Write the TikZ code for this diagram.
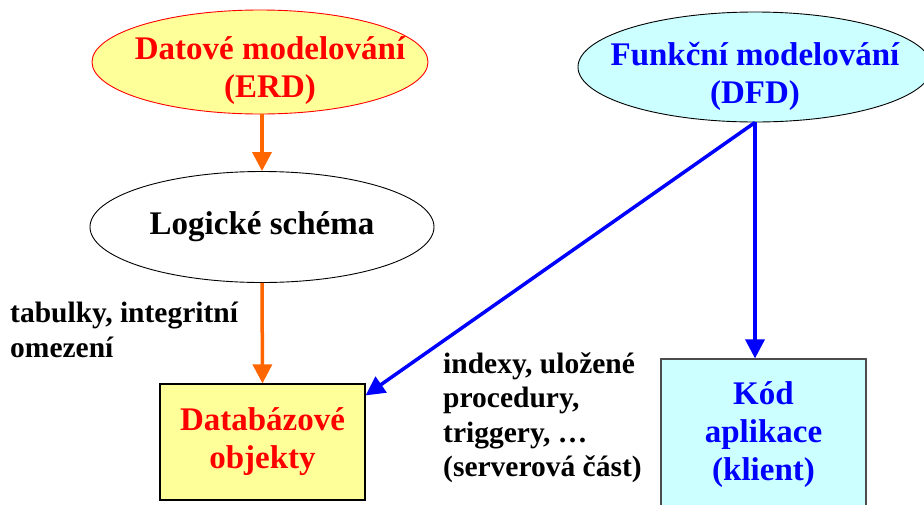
\documentclass[tikz,border=0pt]{standalone}
\usepackage{fontspec}
\setmainfont{Liberation Serif}
\usetikzlibrary{arrows.meta}
\usetikzlibrary{shapes}

\definecolor{paleyellow}{HTML}{FFFF99}
\definecolor{palecyan}{HTML}{CCFFFF}
\definecolor{arroworange}{HTML}{FF6600}

\begin{document}
\begin{tikzpicture}[x=1pt, y=-1pt,
    bigtext/.style={font=\bfseries\fontsize{33}{38}\selectfont, align=center, inner sep=0pt},
    labeltext/.style={font=\bfseries\fontsize{29.5}{34.5}\selectfont, align=left, inner sep=0pt, anchor=north west},
    modelnode/.style={draw, ellipse, line width=0.9pt, bigtext, inner xsep=-20pt},
    objbox/.style={draw, rectangle, line width=1.2pt, bigtext, minimum width=205pt},
    orangearrow/.style={draw=arroworange, line width=3.5pt, -{Triangle[width=19pt,length=19pt]}},
    bluearrow/.style={draw=blue, line width=3.5pt, -{Triangle[width=19pt,length=19pt]}}]
    \useasboundingbox (0,0) rectangle (924,504);

    % top ellipses: text sits a little low (strut) 
    \node[modelnode, draw=red, fill=paleyellow, text=red, inner xsep=-30pt, inner ysep=-12pt,
          minimum width=336pt, minimum height=104pt] (ERD) at (260,62)
          {\rule{0pt}{40pt}\hspace*{20pt}Datové modelování\\\hspace*{20pt}(ERD)};
    \node[modelnode, fill=palecyan, text=blue, inner ysep=-12pt,
          minimum width=354pt, minimum height=110pt] (DFD) at (755,67)
          {\rule{0pt}{42pt}Funkční modelování\\(DFD)};
    \node[modelnode, fill=white, minimum width=344pt, minimum height=111pt] (L) at (262,227) {Logické schéma};
    \node[objbox, fill=paleyellow, text=red, minimum height=116pt] (DB) at (262.5,442) {Databázové\\objekty};
    \node[objbox, draw=black!70, fill=palecyan, text=blue, minimum height=152pt] (K) at (763.5,435) {Kód\\aplikace\\(klient)};

    \node[labeltext] (T1) at (10,302) {tabulky, integritní\\omezení};
    \node[labeltext] (T2) at (443,352) {indexy, uložené\\procedury,\\triggery, …\\(serverová část)};

    \draw[orangearrow] (L.north |- ERD.south) -- (L.north);
    \draw[orangearrow] (L.south) -- (DB.north);
    \draw[bluearrow] (DFD.south) -- (DFD.south |- K.north);
    \draw[bluearrow] (DFD.south) -- ([yshift=-12pt]DB.north east);

\end{tikzpicture}
\end{document}
